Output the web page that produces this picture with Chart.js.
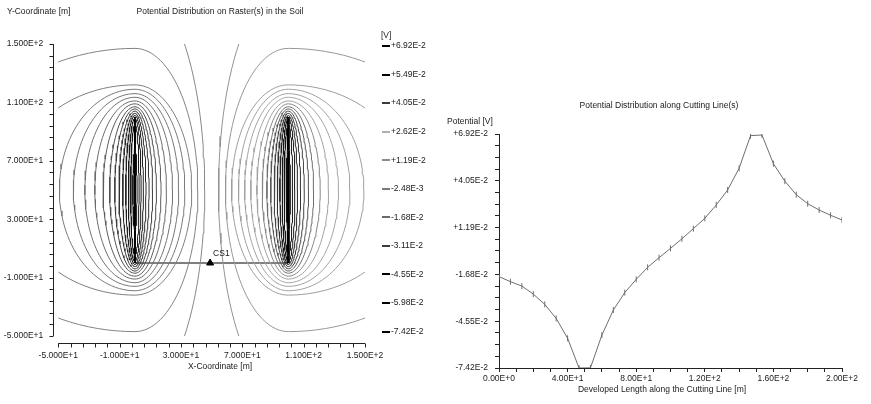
<!DOCTYPE html>
<html><head><meta charset="utf-8">
<script src="https://cdn.jsdelivr.net/npm/chart.js@4.4.1/dist/chart.umd.min.js"></script>
<style>
html,body{margin:0;padding:0;background:#fff;width:871px;height:404px;overflow:hidden}
#left{position:absolute;left:0;top:0}
#right{position:absolute;left:440px;top:0}
</style></head><body>
<canvas id="left" width="440" height="404"></canvas>
<canvas id="right" width="431" height="404"></canvas>
<script>
// ================= DATA =================
// Left chart: raster plot axes
const rasterXTicks = [-50,-42,-34,-26,-18,-10,-2,6,14,22,30,38,46,54,62,70,78,86,94,102,110,118,126,134,142,150];
const rasterXMajor = [-50,-10,30,70,110,150];
const rasterXLabels = ['-5.000E+1','-1.000E+1','3.000E+1','7.000E+1','1.100E+2','1.500E+2'];
const rasterYTicks = [-50,-42,-34,-26,-18,-10,-2,6,14,22,30,38,46,54,62,70,78,86,94,102,110,118,126,134,142,150];
const rasterYMajor = [-50,-10,30,70,110,150];
const rasterYLabels = ['-5.000E+1','-1.000E+1','3.000E+1','7.000E+1','1.100E+2','1.500E+2'];

// Legend levels [V]
const legendLabels = ['+6.92E-2','+5.49E-2','+4.05E-2','+2.62E-2','+1.19E-2','-2.48E-3','-1.68E-2','-3.11E-2','-4.55E-2','-5.98E-2','-7.42E-2'];
const legendValues = [0.0692,0.0549,0.0405,0.0262,0.0119,-0.00248,-0.0168,-0.0311,-0.0455,-0.0598,-0.0742];

// Electrodes (x position, y from/to) and cutting line CS1
const electrodeX = [0, 100];
const electrodeYFrom = 0, electrodeYTo = 100;
const electrodeMidY = 50;
const cutLineX = [0, 100];
const cutLineY = [0, 0];
const cutMarker = [49, 0];

// Contour rings around the left electrode (right electrode = mirror image, opposite sign)
// reach to the outer side, reach toward the centre, half height (m)
const ringOuterReach = [1.4, 2.8, 4.3, 6.0, 8.0, 10.4, 13.2, 16.5, 20.8, 26.2, 32.7, 40.2, 49.3, 80, 117, 160];
const ringInnerReach = [1.4, 2.7, 4.0, 5.5, 7.2, 9.2,  11.5, 14.0, 17.0, 20.5, 24.5, 28.5, 32.5, 37, 41,  45.5];
const ringHalfHeight = [28,  45,  49,  51,  52.5,54,   55.5, 57,   59,   61,   63.5, 66,   69,   72, 97,  142];

// Right chart: potential along cutting line CS1
const devLength = [0,6.67,13.33,20,26.67,33.33,40,46.67,53.33,60,66.67,73.33,80,86.67,93.33,100,106.67,113.33,120,126.67,133.33,140,146.67,153.33,160,166.67,173.33,180,186.67,193.33,200];
const potential = [-0.0182,-0.0213,-0.0240,-0.0289,-0.0352,-0.0438,-0.0560,-0.0742,-0.0741,-0.0540,-0.0387,-0.0280,-0.0199,-0.0125,-0.0066,-0.0009,0.0050,0.0112,0.0175,0.0257,0.0349,0.0482,0.0682,0.0686,0.0510,0.0403,0.0320,0.0265,0.0226,0.0194,0.0165];
const cutXTicks = [0,10,20,30,40,50,60,70,80,90,100,110,120,130,140,150,160,170,180,190,200];
const cutXMajor = [0,40,80,120,160,200];
const cutXLabels = ['0.00E+0','4.00E+1','8.00E+1','1.20E+2','1.60E+2','2.00E+2'];
const cutYMajor = [-0.0742,-0.0455,-0.0168,0.0119,0.0405,0.0692];
const cutYLabels = ['-7.42E-2','-4.55E-2','-1.68E-2','+1.19E-2','+4.05E-2','+6.92E-2'];

// ================= STYLE =================
const FONT = {family:'"Liberation Sans", Arial, sans-serif', size:8.5};
const TEXT = '#1a1a1a';
const legendGreys = [0,0,58,176,140,122,106,60,0,0,0];
const ringGreys   = [15,25,80,165,160,140,125,110,60,25,15];

function greyFor(v, table){
  for (let i=0;i<legendValues.length-1;i++){
    const a=legendValues[i], b=legendValues[i+1];
    if (v<=a && v>=b){
      const t=(a-v)/(a-b);
      const g=Math.round(table[i]+(table[i+1]-table[i])*t);
      return 'rgb('+g+','+g+','+g+')';
    }
  }
  return '#000';
}

function ringPoints(cx, outer, inner, half, outerSide){
  const pts=[];
  const N=120;
  for(let i=0;i<=N;i++){
    const th=2*Math.PI*i/N;
    const c=Math.cos(th), s=Math.sin(th);
    const reach = (c*outerSide>=0)? outer: inner;
    pts.push({x:cx + reach*c, y:electrodeMidY + half*s});
  }
  return pts;
}

const contourSets=[];
const vLeft = legendValues[legendValues.length-1];
const vRight = legendValues[0];
const vMid = legendValues[5];
const nR = ringOuterReach.length;
for(let i=0;i<nR;i++){
  const f=(i+1)/(nR+1);
  const vl = vLeft + (vMid-vLeft)*f;
  const vr = vRight - (vRight-vMid)*f;
  contourSets.push({type:'line',data:ringPoints(electrodeX[0],ringOuterReach[i],ringInnerReach[i],ringHalfHeight[i],-1),
    borderColor:greyFor(vl,ringGreys),borderWidth:1,pointRadius:0,tension:0,fill:false});
  contourSets.push({type:'line',data:ringPoints(electrodeX[1],ringOuterReach[i],ringInnerReach[i],ringHalfHeight[i],1),
    borderColor:greyFor(vr,ringGreys),borderWidth:1,pointRadius:0,tension:0,fill:false});
}

const electrodeSets = electrodeX.map((x,i)=>({type:'line',data:[{x:x,y:electrodeYFrom},{x:x,y:electrodeYTo}],
  borderColor:'#000',borderWidth:i===0?2:3,pointRadius:0}));
const cutSet = {type:'line',data:cutLineX.map((x,i)=>({x:x,y:cutLineY[i]})),borderColor:'#000',borderWidth:1,pointRadius:0};
const markerSet = {type:'scatter',data:[{x:cutMarker[0],y:cutMarker[1]}],pointStyle:'triangle',pointRadius:4,
  backgroundColor:'#000',borderColor:'#000',borderWidth:1};
const centreDots = {type:'scatter',data:electrodeX.map(x=>({x:x,y:electrodeMidY})),pointRadius:0.8,
  backgroundColor:'#555',borderWidth:0};

// ---------- plugins ----------
const leftDeco = {
  id:'leftDeco',
  afterDraw(chart){
    const ctx=chart.ctx, xs=chart.scales.x, ys=chart.scales.y;
    ctx.save();
    ctx.strokeStyle='#222'; ctx.lineWidth=1;
    const ax = Math.round(chart.chartArea.left-5)+0.5;
    ctx.beginPath();
    ctx.moveTo(ax, ys.getPixelForValue(150)); ctx.lineTo(ax, ys.getPixelForValue(-50));
    rasterYTicks.forEach(v=>{const p=Math.round(ys.getPixelForValue(v))+0.5; ctx.moveTo(ax,p); ctx.lineTo(ax-4,p);});
    const ay = Math.round(chart.chartArea.bottom+7)+0.5;
    ctx.moveTo(xs.getPixelForValue(-50), ay); ctx.lineTo(xs.getPixelForValue(150), ay);
    rasterXTicks.forEach(v=>{const p=Math.round(xs.getPixelForValue(v))+0.5; ctx.moveTo(p,ay); ctx.lineTo(p,ay+4);});
    ctx.stroke();
    ctx.fillStyle=TEXT;
    ctx.font = FONT.size+'px '+FONT.family;
    ctx.textBaseline='middle';
    ctx.textAlign='left';
    ctx.fillText('Y-Coordinate [m]', 7, 12);
    ctx.textAlign='center';
    ctx.fillText('Potential Distribution on Raster(s) in the Soil', 220, 12);
    ctx.fillText('X-Coordinate [m]', 220, 367);
    ctx.textAlign='left';
    ctx.fillText('CS1', xs.getPixelForValue(cutMarker[0])+3, ys.getPixelForValue(cutMarker[1])-9);
    ctx.fillText('[V]', 381, 36);
    legendLabels.forEach((t,i)=>{
      const y = 46 + i*28.55;
      const g=legendGreys[i];
      ctx.fillStyle='rgb('+g+','+g+','+g+')';
      ctx.fillRect(382, Math.round(y)-1, 8, 2);
      ctx.fillStyle=TEXT;
      ctx.fillText(t, 391, y);
    });
    ctx.restore();
  }
};

const rightDeco = {
  id:'rightDeco',
  afterDraw(chart){
    const ctx=chart.ctx;
    ctx.save();
    ctx.fillStyle=TEXT;
    ctx.font = FONT.size+'px '+FONT.family;
    ctx.textBaseline='middle';
    ctx.textAlign='center';
    ctx.fillText('Potential Distribution along Cutting Line(s)', 219, 106);
    ctx.fillText('Developed Length along the Cutting Line [m]', 222, 390);
    ctx.textAlign='left';
    ctx.fillText('Potential [V]', 7, 122);
    ctx.restore();
  }
};

Chart.defaults.font.family = FONT.family;
Chart.defaults.font.size = FONT.size;
Chart.defaults.color = TEXT;

new Chart(document.getElementById('left'), {
  type:'scatter',
  data:{datasets:[...contourSets, ...electrodeSets, cutSet, markerSet, centreDots]},
  options:{
    responsive:false, animation:false,
    layout:{padding:{left:0,top:44,right:75,bottom:0}},
    plugins:{legend:{display:false},tooltip:{enabled:false}},
    elements:{line:{borderCapStyle:'butt'}},
    scales:{
      x:{type:'linear',min:-50,max:150,
        afterBuildTicks:s=>{s.ticks=rasterXTicks.map(v=>({value:v}));},
        afterFit:s=>{s.height=68;},
        grid:{display:false,drawTicks:false}, border:{display:false},
        ticks:{autoSkip:false,maxRotation:0,padding:15,color:TEXT,
          callback:v=>{const i=rasterXMajor.indexOf(v);return i>=0?rasterXLabels[i]:'';}}},
      y:{type:'linear',min:-50,max:150,
        afterBuildTicks:s=>{s.ticks=rasterYTicks.map(v=>({value:v}));},
        afterFit:s=>{s.width=58.3;},
        grid:{display:false,drawTicks:false}, border:{display:false},
        ticks:{autoSkip:false,padding:15,color:TEXT,
          callback:v=>{const i=rasterYMajor.indexOf(v);return i>=0?rasterYLabels[i]:'';}}}
    }
  },
  plugins:[leftDeco]
});

new Chart(document.getElementById('right'), {
  type:'line',
  data:{datasets:[{data:devLength.map((x,i)=>({x:x,y:potential[i]})),
    borderColor:'#6e6e6e',borderWidth:1,tension:0,
    pointStyle:'line',rotation:90,pointRadius:3,pointBorderColor:'#6e6e6e',pointBorderWidth:1}]},
  options:{
    responsive:false, animation:false,
    layout:{padding:{left:0,top:134,right:29,bottom:0}},
    plugins:{legend:{display:false},tooltip:{enabled:false}},
    scales:{
      x:{type:'linear',min:0,max:200,
        afterBuildTicks:s=>{s.ticks=cutXTicks.map(v=>({value:v}));},
        afterFit:s=>{s.height=36;},
        grid:{drawOnChartArea:false,tickLength:4,color:'#222'}, border:{color:'#222'},
        ticks:{autoSkip:false,maxRotation:0,padding:2,color:TEXT,
          callback:v=>{const i=cutXMajor.indexOf(v);return i>=0?cutXLabels[i]:'';}}},
      y:{type:'linear',min:-0.0742,max:0.0692,
        afterBuildTicks:s=>{const t=[];for(let i=0;i<cutYMajor.length;i++){t.push({value:cutYMajor[i]});
            if(i<cutYMajor.length-1){const d=(cutYMajor[i+1]-cutYMajor[i])/4;for(let j=1;j<4;j++)t.push({value:cutYMajor[i]+d*j});}}
          s.ticks=t;},
        afterFit:s=>{s.width=59;},
        grid:{drawOnChartArea:false,tickLength:4,color:'#222'}, border:{color:'#222'},
        ticks:{autoSkip:false,padding:7,color:TEXT,
          callback:v=>{const i=cutYMajor.findIndex(m=>Math.abs(m-v)<1e-6);return i>=0?cutYLabels[i]:'';}}}
    }
  },
  plugins:[rightDeco]
});
</script>
</body></html>
